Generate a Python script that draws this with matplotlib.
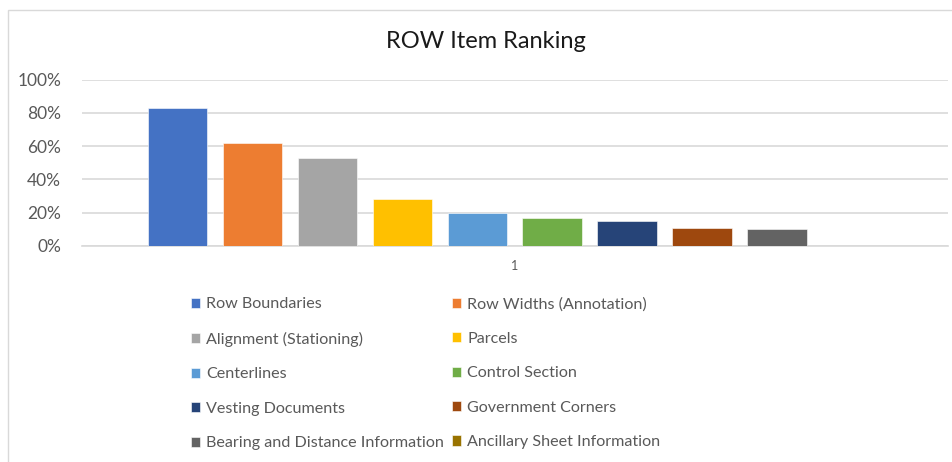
import matplotlib.pyplot as plt
from matplotlib.patches import Rectangle
from matplotlib.ticker import PercentFormatter

# Data
items = ["Row Boundaries", "Row Widths (Annotation)", "Alignment (Stationing)", "Parcels",
         "Centerlines", "Control Section", "Vesting Documents", "Government Corners",
         "Bearing and Distance Information", "Ancillary Sheet Information"]
shares = [0.83, 0.62, 0.53, 0.28, 0.20, 0.17, 0.15, 0.11, 0.10, 0.0]
colors = ["#4472C4", "#ED7D31", "#A5A5A5", "#FFC000", "#5B9BD5",
          "#70AD47", "#264478", "#9E480E", "#636363", "#997300"]
category = 1
yticks = [0, 0.2, 0.4, 0.6, 0.8, 1.0]

plt.rcParams['font.family'] = ['Lato', 'DejaVu Sans']

fig = plt.figure(figsize=(9.52, 4.62), dpi=100)
fig.patches.append(Rectangle((7.5 / 952, -0.01), 1.0, 1 - 9.5 / 462 + 0.01,
                             transform=fig.transFigure, fill=False,
                             edgecolor="#d9d9d9", linewidth=1))

ax = fig.add_axes([82 / 952, 1 - 246 / 462, 866 / 952, (246 - 79.7) / 462])

# Draw bars, one per item, clustered around the category
n = len(items)
bars = []
for i, (name, val, col) in enumerate(zip(items, shares, colors)):
    x = category + (i - (n - 1) / 2)
    b = ax.bar(x, val, width=0.787, color=col, label=name, edgecolor="white", linewidth=0.4, zorder=3)
    bars.append(b)

ax.set_xlim(category - 5.767, category + 5.78)
ax.set_ylim(0, 1.0)
ax.set_yticks(yticks)
ax.yaxis.set_major_formatter(PercentFormatter(1.0, decimals=0))
ax.set_xticks([category])
ax.set_xticklabels([str(category)])
ax.grid(axis="y", color="#d9d9d9", linewidth=1.2, zorder=0)
for s in ["top", "right", "left"]:
    ax.spines[s].set_visible(False)
ax.spines["bottom"].set_color("#d9d9d9")
ax.spines["bottom"].set_linewidth(1.2)
ax.tick_params(axis="y", length=0, labelsize=12.5, labelcolor="#595959", pad=15)
ax.tick_params(axis="x", length=0, labelsize=9, labelcolor="#595959", pad=10)

fig.text(486 / 952, 1 - 42 / 462, "ROW Item Ranking", ha="center", va="center",
         fontsize=17, color="#1a1a1a")

# Legend: row-major order in two columns
order = list(range(0, n, 2)) + list(range(1, n, 2))
leg = fig.legend([bars[i] for i in order], [items[i] for i in order], ncol=2,
                 loc="upper left", bbox_to_anchor=(191 / 952, 1 - 297 / 462),
                 frameon=False, fontsize=11.6, handlelength=0.58, handleheight=0.58,
                 handletextpad=0.38, columnspacing=0.45, labelspacing=1.27,
                 borderpad=0, borderaxespad=0)
for t in leg.get_texts():
    t.set_color("#595959")

fig.savefig("out.png", dpi=100)
